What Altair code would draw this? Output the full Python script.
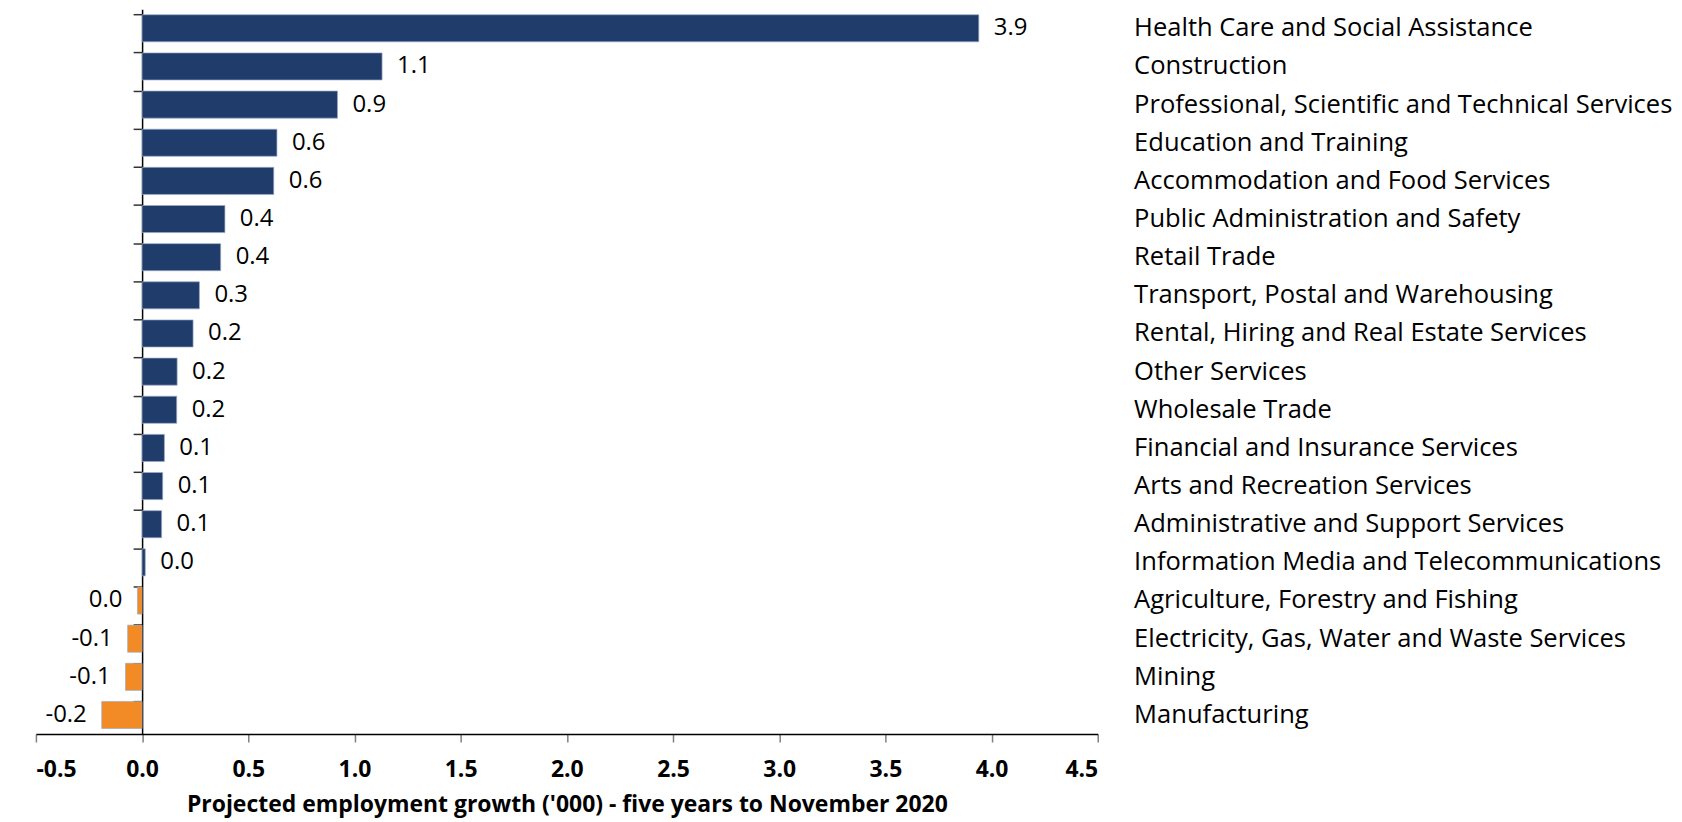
import altair as alt
import pandas as pd

industries = [
    "Health Care and Social Assistance",
    "Construction",
    "Professional, Scientific and Technical Services",
    "Education and Training",
    "Accommodation and Food Services",
    "Public Administration and Safety",
    "Retail Trade",
    "Transport, Postal and Warehousing",
    "Rental, Hiring and Real Estate Services",
    "Other Services",
    "Wholesale Trade",
    "Financial and Insurance Services",
    "Arts and Recreation Services",
    "Administrative and Support Services",
    "Information Media and Telecommunications",
    "Agriculture, Forestry and Fishing",
    "Electricity, Gas, Water and Waste Services",
    "Mining",
    "Manufacturing",
]
growth = [3.94, 1.13, 0.92, 0.635, 0.62, 0.39, 0.37, 0.27, 0.24, 0.165, 0.163,
          0.105, 0.097, 0.092, 0.015, -0.022, -0.068, -0.078, -0.19]

x_ticks = [-0.5, 0.0, 0.5, 1.0, 1.5, 2.0, 2.5, 3.0, 3.5, 4.0, 4.5]

NAVY = "#1F3C6B"
ORANGE = "#F28A25"
FONT = "Open Sans"

df = pd.DataFrame({"industry": industries, "growth": growth})

W, H = 1065, 727
zero_px = W * 0.5 / 5.0

x_enc = alt.X(
    "growth:Q",
    scale=alt.Scale(domain=[-0.5, 4.5], nice=False, zero=False),
    axis=alt.Axis(
        values=x_ticks,
        labelExpr="replace(format(datum.value, '.1f'), '\u2212', '-')",
        title="Projected employment growth ('000) - five years to November 2020",
        titleFont=FONT, titleFontSize=23, titleFontWeight="bold", titleColor="#000",
        titlePadding=12,
        labelFont=FONT, labelFontSize=23, labelFontWeight="bold", labelColor="#000",
        labelPadding=17,
        grid=False, domainColor="#000", domainWidth=1.5,
        tickColor="#808080", tickSize=8, tickWidth=1.5,
    ),
)

y_scale = alt.Scale(domain=industries, paddingInner=0.29, paddingOuter=0.145)

bars = alt.Chart(df).mark_bar(stroke="#9AAAC4", strokeWidth=0.7).encode(
    x=x_enc,
    y=alt.Y("industry:N", sort=industries, scale=y_scale,
            axis=alt.Axis(orient="left", labels=False, title=None, offset=-zero_px,
                          bandPosition=0, domainColor="#000", domainWidth=1.5,
                          tickColor="#333", tickSize=9, tickWidth=1.5)),
    color=alt.condition(alt.datum.growth < 0, alt.value(ORANGE), alt.value(NAVY)),
)

label_calc = "replace(format(datum.growth, '.1f'), '\u2212', '-')"

pos_text = alt.Chart(df).transform_filter("datum.growth >= 0").transform_calculate(
    lbl=label_calc
).mark_text(align="left", baseline="middle", dx=15, font=FONT, fontSize=24, color="#000").encode(
    x="growth:Q",
    y=alt.Y("industry:N", sort=industries, scale=y_scale, axis=None),
    text="lbl:N",
)

neg_text = alt.Chart(df).transform_filter("datum.growth < 0").transform_calculate(
    lbl=label_calc
).mark_text(align="right", baseline="middle", dx=-15, font=FONT, fontSize=24, color="#000").encode(
    x="growth:Q",
    y=alt.Y("industry:N", sort=industries, scale=y_scale, axis=None),
    text="lbl:N",
)

right_axis = alt.Chart(df).mark_bar(opacity=0).encode(
    x="growth:Q",
    y=alt.Y("industry:N", sort=industries, scale=y_scale,
            axis=alt.Axis(orient="right", title=None, domain=False, ticks=False,
                          labelAlign="left", labelPadding=36, labelLimit=0,
                          labelFont=FONT, labelFontSize=25.6, labelColor="#000")),
)

chart = alt.layer(bars, pos_text, neg_text, right_axis).resolve_axis(
    y="independent"
).properties(
    width=W, height=H,
    background="white",
    autosize=alt.AutoSizeParams(type="none"),
    padding={"left": 28, "top": 0, "right": 578, "bottom": 85},
).configure_view(strokeWidth=0, stroke="transparent")

chart.save("out.html", embed_options={"renderer": "svg", "actions": False})
